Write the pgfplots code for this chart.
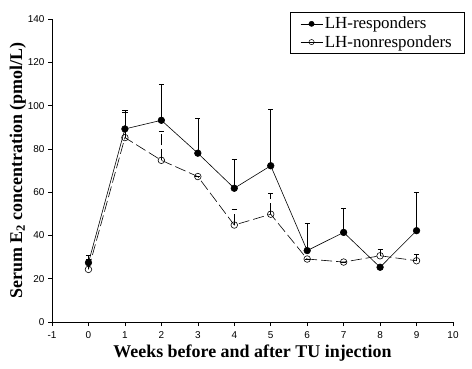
\documentclass[border=0pt]{standalone}
\usepackage{fontspec}
\setmainfont{Liberation Serif}
\newfontfamily\tickfont{Liberation Sans}
\usepackage{pgfplots}
\pgfplotsset{compat=1.18}
\begin{document}
\begin{tikzpicture}[x=1bp,y=1bp]
\path[use as bounding box] (-52,-46) rectangle (420,322);
\begin{axis}[
  at={(0,0)}, anchor=south west,
  scale only axis, width=401bp, height=303bp,
  xmin=-1, xmax=10, ymin=0, ymax=140,
  axis x line*=bottom, axis y line*=left,
  axis line style={-, line width=0.6pt},
  tick align=outside, tick style={black, line width=0.5pt},
  major tick length=4bp,
  xtick={-1,0,...,10}, ytick={0,20,...,140},
  /pgf/number format/assume math mode=true,
  tick label style={font=\tickfont\fontsize{10}{11}\selectfont},
  xticklabel style={yshift=-2bp},
  xlabel={\textbf{Weeks before and after TU injection}},
  ylabel={\textbf{Serum E\textsubscript{2} concentration (pmol/L)}},
  xlabel style={font=\fontsize{18}{20}\selectfont, yshift=1bp},
  ylabel style={font=\fontsize{18}{20}\selectfont, yshift=-5bp},
  clip=false,
  legend style={at={(1.0274,1.023)}, anchor=north east, draw=black, line width=0.4pt,
    font=\fontsize{17}{19}\selectfont, row sep=1bp, inner xsep=10bp, inner ysep=3bp},
  legend cell align=left,
  legend image code/.code={
    \draw[mark repeat=2, mark phase=2, solid, line width=0.5pt, mark size=2.6bp]
      plot coordinates {(0bp,0bp) (11bp,0bp) (22bp,0bp)};},
  error bars/y dir=plus, error bars/y explicit,
  error bars/error bar style={line width=0.5pt, black},
  error bars/error mark options={rotate=90, mark size=2.6bp, line width=0.5pt},
]
\addplot[black, line width=0.6pt, mark=*, mark size=3.3bp, mark options={fill=black, solid}]
 table[x=x, y=y, y error=e] {
x y e
0 27.4 3.5
1 89.2 8.8
2 93.2 16.5
3 78.0 16.1
4 61.8 13.4
5 72.2 26.1
6 33.0 12.6
7 41.4 11.0
8 25.3 0
9 42.2 17.7
};
\addlegendentry{LH-responders}
\addplot[black, line width=0.6pt, dash pattern=on 11bp off 4bp, mark=o, mark size=3.3bp, mark options={fill=white, solid}]
 table[x=x, y=y, y error=e] {
x y e
0 24.3 4.5
1 85.2 11.7
2 74.7 13.6
3 67.2 0
4 44.8 7.4
5 49.8 9.7
6 29.1 0
7 27.7 0
8 30.6 2.8
9 28.3 2.8
};
\addlegendentry{LH-nonresponders}
\end{axis}
\end{tikzpicture}
\end{document}
